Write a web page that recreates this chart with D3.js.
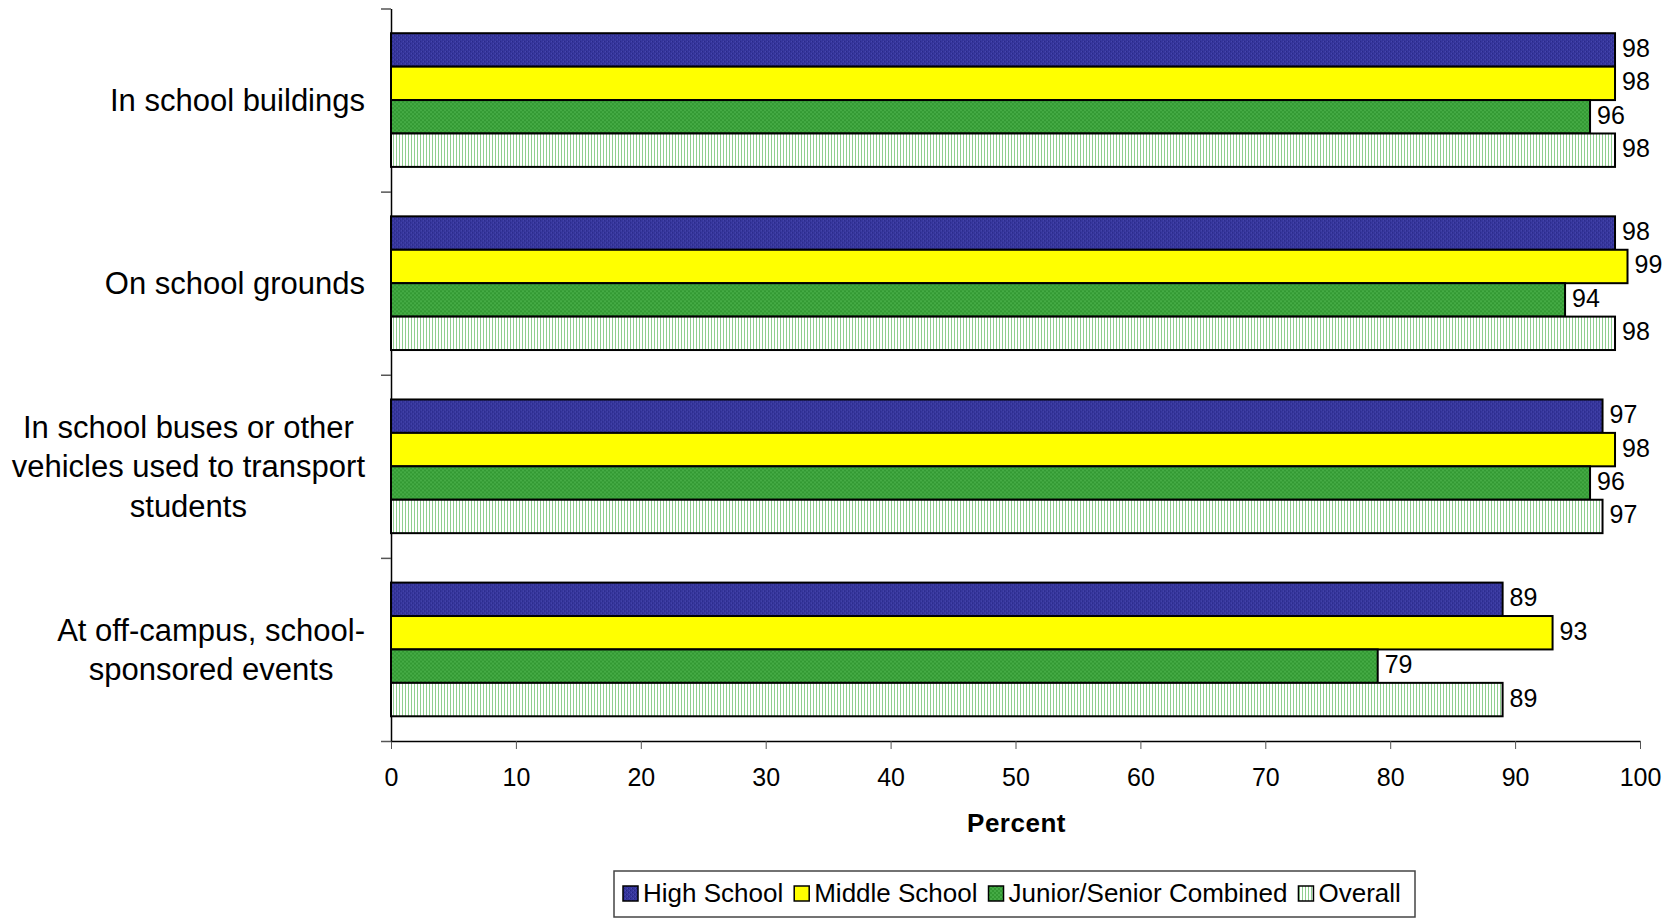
<!DOCTYPE html>
<meta charset="utf-8">
<head>
  <script src="https://d3js.org/d3.v7.min.js"></script>
  <style>
    body { margin: 0; background: #fff; }
    svg text { font-family: "Liberation Sans", Arial, sans-serif; fill: #000; }
  </style>
</head>
<body>
  <svg id="chart"></svg>

  <script>
    // data
    var categories = [
      ["In school buildings"],
      ["On school grounds"],
      ["In school buses or other", "vehicles used to transport", "students"],
      ["At off-campus, school-", "sponsored events"]
    ];
    var seriesNames = ["High School", "Middle School", "Junior/Senior Combined", "Overall"];
    var highSchool   = [98, 98, 97, 89];
    var middleSchool = [98, 99, 98, 93];
    var juniorSenior = [96, 94, 96, 79];
    var overall      = [98, 98, 97, 89];
    var xTicks = [0, 10, 20, 30, 40, 50, 60, 70, 80, 90, 100];

    var seriesValues = [highSchool, middleSchool, juniorSenior, overall];
    var seriesFill = ["url(#patBlue)", "#ffff00", "url(#patGreen)", "url(#patOverall)"];

    var W = 1675, H = 918;
    var plot = {left: 391, right: 1640, top: 8.5, bottom: 741};

    var svg = d3.select("#chart").attr("width", W).attr("height", H);

    // ---- fill patterns ----
    var defs = svg.append("defs");
    var pb = defs.append("pattern").attr("id", "patBlue")
      .attr("patternUnits", "userSpaceOnUse").attr("width", 4).attr("height", 4);
    pb.append("rect").attr("width", 4).attr("height", 4).attr("fill", "#36369c");
    [[0,0],[2,2]].forEach(function(p){
      pb.append("rect").attr("x", p[0]).attr("y", p[1]).attr("width", 1).attr("height", 1).attr("fill", "#262684");
    });
    [[1,2],[3,0]].forEach(function(p){
      pb.append("rect").attr("x", p[0]).attr("y", p[1]).attr("width", 1).attr("height", 1).attr("fill", "#4a4ab0");
    });

    var pg = defs.append("pattern").attr("id", "patGreen")
      .attr("patternUnits", "userSpaceOnUse").attr("width", 4).attr("height", 4);
    pg.append("rect").attr("width", 4).attr("height", 4).attr("fill", "#339933");
    pg.append("rect").attr("x", 0).attr("y", 0).attr("width", 2).attr("height", 2).attr("fill", "#45ab45");
    pg.append("rect").attr("x", 2).attr("y", 2).attr("width", 2).attr("height", 2).attr("fill", "#45ab45");

    var po = defs.append("pattern").attr("id", "patOverall")
      .attr("patternUnits", "userSpaceOnUse").attr("width", 3).attr("height", 3);
    po.append("rect").attr("width", 3).attr("height", 3).attr("fill", "#ffffff");
    po.append("rect").attr("x", 0).attr("width", 1).attr("height", 3).attr("fill", "#8fcf8f");

    // ---- scales ----
    var x = d3.scaleLinear().domain([0, 100]).range([plot.left, plot.right]);
    var yCat = d3.scaleBand().domain(d3.range(categories.length))
      .range([plot.top, plot.bottom]).paddingInner(0.27).paddingOuter(0.135);
    var ySer = d3.scaleBand().domain(d3.range(seriesNames.length)).range([0, yCat.bandwidth()]);
    var yEdge = d3.scaleLinear().domain([0, categories.length]).range([plot.top, plot.bottom]);

    // ---- axes ----
    var xAxis = svg.append("g")
      .attr("transform", "translate(0," + plot.bottom + ")")
      .call(d3.axisBottom(x).tickValues(xTicks).tickSize(8).tickPadding(19).tickSizeOuter(0));
    xAxis.select(".domain").attr("stroke", "#000").attr("stroke-width", 1.5);
    xAxis.selectAll(".tick line").attr("stroke", "#555");
    xAxis.selectAll("text").style("font-size", "25px").attr("fill", "#000");

    var yAxis = svg.append("g")
      .attr("transform", "translate(" + plot.left + ",0)")
      .call(d3.axisLeft(yEdge).tickValues(d3.range(categories.length + 1)).tickFormat("").tickSize(10).tickSizeOuter(0));
    yAxis.select(".domain").attr("stroke", "#000").attr("stroke-width", 1.5);
    yAxis.selectAll(".tick line").attr("stroke", "#555").attr("stroke-width", 1.5);

    // ---- bars ----
    var groups = svg.selectAll(".cat").data(categories).enter().append("g")
      .attr("class", "cat")
      .attr("transform", function(d, i){ return "translate(0," + yCat(i) + ")"; });

    groups.each(function(cat, ci){
      var g = d3.select(this);
      var rows = seriesValues.map(function(vals, si){ return {s: si, v: vals[ci]}; });
      g.selectAll("rect").data(rows).enter().append("rect")
        .attr("x", x(0))
        .attr("y", function(d){ return ySer(d.s); })
        .attr("width", function(d){ return x(d.v) - x(0); })
        .attr("height", ySer.bandwidth())
        .attr("fill", function(d){ return seriesFill[d.s]; })
        .attr("stroke", "#000").attr("stroke-width", 2);
      g.selectAll("text.val").data(rows).enter().append("text")
        .attr("class", "val")
        .attr("x", function(d){ return x(d.v) + 7; })
        .attr("y", function(d){ return ySer(d.s) + ySer.bandwidth() / 2 + 7; })
        .style("font-size", "25px")
        .text(function(d){ return d.v; });
    });

    // ---- category labels (lines centred, block right-aligned) ----
    var labelRight = 365, lineH = 39.5;
    categories.forEach(function(lines, ci){
      var cy = yCat(ci) + yCat.bandwidth() / 2;
      var g = svg.append("g");
      var texts = g.selectAll("text").data(lines).enter().append("text")
        .style("font-size", "31px")
        .attr("text-anchor", "middle")
        .attr("y", function(d, i){ return cy + (i - (lines.length - 1) / 2) * lineH + 11; })
        .text(function(d){ return d; });
      var maxW = d3.max(texts.nodes(), function(n){ return n.getComputedTextLength(); });
      texts.attr("x", labelRight - maxW / 2);
    });

    // ---- axis title ----
    svg.append("text")
      .attr("x", (plot.left + plot.right) / 2 + 1).attr("y", 832)
      .attr("text-anchor", "middle")
      .style("font-size", "26px").style("font-weight", "bold").style("letter-spacing", "0.5px")
      .text("Percent");

    // ---- legend ----
    var leg = svg.append("g");
    leg.append("rect")
      .attr("x", 614).attr("y", 871).attr("width", 801).attr("height", 46)
      .attr("fill", "#fff").attr("stroke", "#444").attr("stroke-width", 1.5);
    var lx = 623;
    seriesNames.forEach(function(name, si){
      leg.append("rect").attr("x", lx).attr("y", 886).attr("width", 15).attr("height", 15)
        .attr("fill", seriesFill[si]).attr("stroke", "#000").attr("stroke-width", 1.5);
      var t = leg.append("text").attr("x", lx + 20).attr("y", 902)
        .style("font-size", "26px").text(name);
      lx += 20 + t.node().getComputedTextLength() + 11;
    });
  </script>
</body>
